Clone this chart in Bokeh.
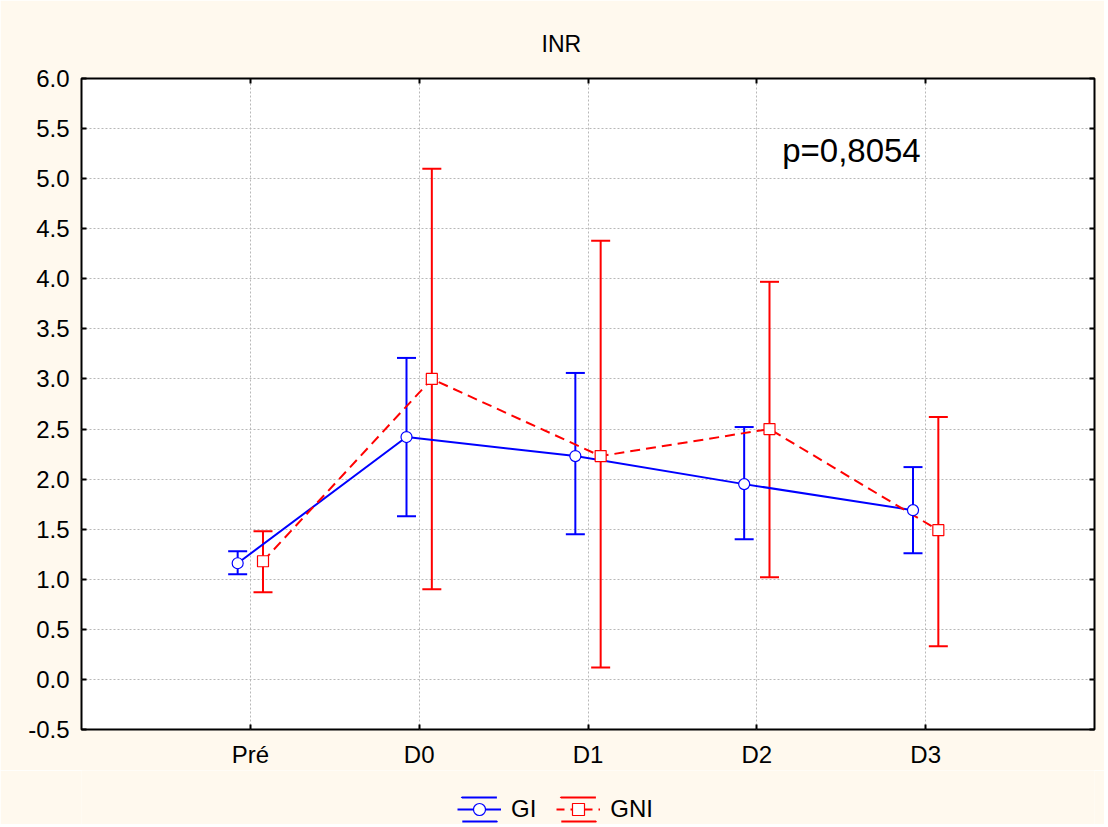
import numpy as np
from bokeh.plotting import figure
from bokeh.layouts import column
from bokeh.models import (ColumnDataSource, Whisker, TeeHead, Label, Legend, LegendItem,
                          FixedTicker, LinearAxis, Range1d, PrintfTickFormatter)
from bokeh.embed import file_html
from bokeh.resources import INLINE

# ---- data ----
categories = ["Pré", "D0", "D1", "D2", "D3"]
gi_mean = [1.16, 2.42, 2.23, 1.95, 1.69]
gi_upper = [1.28, 3.21, 3.06, 2.52, 2.12]
gi_lower = [1.05, 1.63, 1.45, 1.40, 1.26]
gni_mean = [1.18, 3.00, 2.23, 2.50, 1.49]
gni_upper = [1.48, 5.10, 4.38, 3.97, 2.62]
gni_lower = [0.87, 0.90, 0.12, 1.02, 0.33]
y_ticks = [-0.5, 0.0, 0.5, 1.0, 1.5, 2.0, 2.5, 3.0, 3.5, 4.0, 4.5, 5.0, 5.5, 6.0]
series_names = ["GI", "GNI"]
p_text = "p=0,8054"
title_text = "INR"

FONT = "Liberation Sans"
BG = "#FFF9EE"
BLUE = "#0000FF"
RED = "#FF0000"
W = 1104

idx = list(range(len(categories)))
gi_x = [i - 0.075 for i in idx]
gni_x = [i + 0.075 for i in idx]

gi_src = ColumnDataSource(dict(x=gi_x, y=gi_mean, upper=gi_upper, lower=gi_lower))
gni_src = ColumnDataSource(dict(x=gni_x, y=gni_mean, upper=gni_upper, lower=gni_lower))

p = figure(width=W, height=770, x_range=Range1d(-1, 5), y_range=Range1d(-0.5, 6.0),
           output_backend="svg", toolbar_location=None,
           background_fill_color="white", border_fill_color=BG,
           min_border_left=81, min_border_right=10, min_border_top=78, min_border_bottom=40)

p.outline_line_color = "black"
p.outline_line_width = 2

# title
p.title.text = title_text
p.title.text_font = FONT
p.title.text_font_size = "23px"
p.title.text_font_style = "normal"
p.title.text_color = "black"
p.title.align = "left"
p.title.offset = 460
p.title.standoff = 44

# axes
xax = p.xaxis[0]
xax.ticker = FixedTicker(ticks=idx)
xax.major_label_overrides = {i: c for i, c in zip(idx, categories)}
yax = p.yaxis[0]
yax.ticker = FixedTicker(ticks=y_ticks)
yax.formatter = PrintfTickFormatter(format="%.1f")

for ax in (xax, yax):
    ax.axis_line_color = None
    ax.major_tick_in = 5
    ax.major_tick_out = 0
    ax.major_tick_line_width = 2
    ax.major_tick_line_color = "black"
    ax.minor_tick_line_color = None
    ax.major_label_text_font = FONT
    ax.major_label_text_font_size = "24px"
    ax.major_label_text_color = "black"
xax.major_label_standoff = 11
yax.major_label_standoff = 12

top_ax = LinearAxis(ticker=FixedTicker(ticks=idx), axis_line_color=None,
                    major_tick_in=5, major_tick_out=0, major_tick_line_width=2,
                    minor_tick_line_color=None, major_label_text_font_size="1px",
                    major_label_text_alpha=0, major_label_standoff=0)
right_ax = LinearAxis(ticker=FixedTicker(ticks=y_ticks), axis_line_color=None,
                      major_tick_in=5, major_tick_out=0, major_tick_line_width=2,
                      minor_tick_line_color=None, major_label_text_font_size="1px",
                      major_label_text_alpha=0, major_label_standoff=0)
p.add_layout(top_ax, "above")
p.add_layout(right_ax, "right")

# grid
for g in (p.xgrid[0], p.ygrid[0]):
    g.grid_line_color = "#b8b8b8"
    g.grid_line_dash = "2 2"
    g.grid_line_width = 1
p.xgrid[0].ticker = FixedTicker(ticks=idx)
p.ygrid[0].ticker = FixedTicker(ticks=y_ticks)

# error bars
for src, col in ((gi_src, BLUE), (gni_src, RED)):
    w = Whisker(source=src, base="x", upper="upper", lower="lower", dimension="height",
                line_color=col, line_width=2,
                upper_head=TeeHead(size=19, line_color=col, line_width=2),
                lower_head=TeeHead(size=19, line_color=col, line_width=2))
    p.add_layout(w)

p.line("x", "y", source=gi_src, line_color=BLUE, line_width=2)
p.line("x", "y", source=gni_src, line_color=RED, line_width=2, line_dash="10 6")
p.scatter("x", "y", source=gi_src, marker="circle", size=11,
          fill_color="white", line_color=BLUE, line_width=1.2)
p.scatter("x", "y", source=gni_src, marker="square", size=11,
          fill_color="white", line_color=RED, line_width=1.2)

# p-value label
p.add_layout(Label(x=3.15, y=5.28, text=p_text, text_font=FONT, text_font_size="33px",
                   text_color="black", text_baseline="alphabetic"))

# ---- legend strip (separate figure below the chart, frame aligned with chart) ----
lg = figure(width=W, height=54, x_range=Range1d(0, 1), y_range=Range1d(0, 1),
            output_backend="svg", toolbar_location=None,
            x_axis_location=None, y_axis_location=None,
            min_border_left=81, min_border_right=10, min_border_top=0, min_border_bottom=0,
            outline_line_color=None,
            background_fill_color=BG, border_fill_color=BG)
for g in lg.grid:
    g.visible = False

def dummy():
    return ColumnDataSource(dict(x=np.array([np.nan]), y=np.array([np.nan])))

def key(col, dash):
    caps = lg.rect("x", "y", width=1, height=1, source=dummy(), fill_color=None,
                   line_color=col, line_width=2, line_dash="35 24")
    ln = lg.line("x", "y", source=dummy(), line_color=col, line_width=2, line_dash=dash)
    return caps, ln

gi_c, gi_l = key(BLUE, "solid")
gi_m = lg.scatter("x", "y", source=dummy(), marker="circle",
                  fill_color="white", line_color=BLUE, line_width=1.2)
gni_c, gni_l = key(RED, "8 6")
gni_m = lg.scatter("x", "y", source=dummy(), marker="square",
                   fill_color="white", line_color=RED, line_width=1.2)

legend = Legend(items=[LegendItem(label=series_names[0], renderers=[gi_c, gi_l, gi_m], index=0),
                       LegendItem(label=series_names[1], renderers=[gni_c, gni_l, gni_m], index=0)],
                orientation="horizontal", location=(376, 0),
                label_text_font=FONT, label_text_font_size="24px", label_text_color="black",
                glyph_width=44, glyph_height=30, padding=3, margin=0, spacing=20,
                label_standoff=10,
                background_fill_alpha=0, border_line_color=None)
lg.add_layout(legend, "center")

layout = column(p, lg, spacing=0)
open("out.html", "w").write(file_html(layout, INLINE))
